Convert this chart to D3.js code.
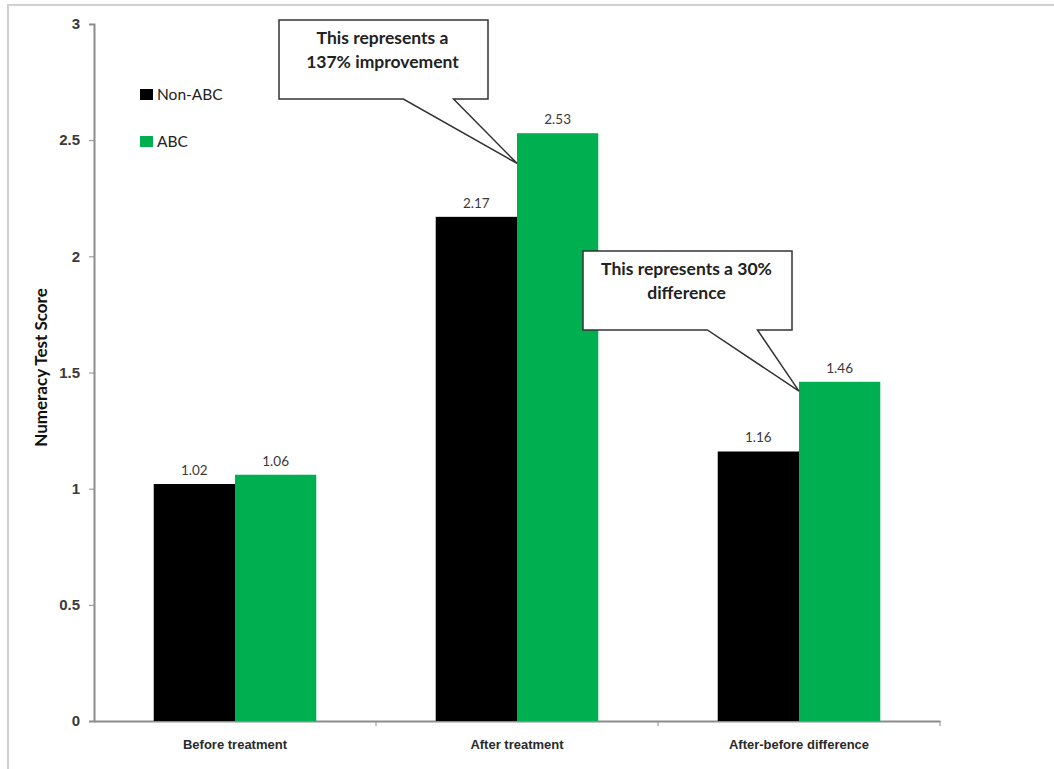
<!DOCTYPE html>
<html>
<head>
<meta charset="utf-8">
<script src="https://cdn.jsdelivr.net/npm/d3@7"></script>
<style>
  body { margin: 0; background: #fff; }
  svg { display: block; font-family: "Lato", "Open Sans", sans-serif; }
</style>
</head>
<body>
<svg id="chart"></svg>
<script>
// data
const categories = ["Before treatment", "After treatment", "After-before difference"];
const seriesNames = ["Non-ABC", "ABC"];
const nonAbc = [1.02, 2.17, 1.16];
const abc = [1.06, 2.53, 1.46];
const yTicks = [0, 0.5, 1, 1.5, 2, 2.5, 3];
const callouts = [
  { lines: ["This represents a", "137% improvement"], category: "After treatment", value: 2.40 },
  { lines: ["This represents a 30%", "difference"], category: "After-before difference", value: 1.42 }
];

const colors = { "Non-ABC": "#000000", "ABC": "#00b050" };

const width = 1054, height = 769;
const margin = { top: 24, right: 114, bottom: 48, left: 94 };

const svg = d3.select("#chart")
  .attr("width", width)
  .attr("height", height);

// outer frame (only top and left visible)
svg.append("path")
  .attr("d", `M8,${height} L8,5 L${width},5`)
  .attr("fill", "none")
  .attr("stroke", "#d0d0d0")
  .attr("stroke-width", 2);

const x = d3.scaleBand()
  .domain(categories)
  .range([margin.left, width - margin.right])
  .paddingInner(0)
  .paddingOuter(0);

const xInner = d3.scaleBand()
  .domain(seriesNames)
  .range([0, x.bandwidth()])
  .paddingOuter(0.75 * 0.98)
  .paddingInner(0);

const y = d3.scaleLinear()
  .domain([0, 3])
  .range([height - margin.bottom, margin.top]);

// y axis
const yAxis = svg.append("g")
  .attr("transform", `translate(${margin.left},0)`)
  .call(d3.axisLeft(y).tickValues(yTicks).tickFormat(d3.format("")).tickSize(5).tickPadding(9));
yAxis.select(".domain").attr("stroke", "#8c8c8c").attr("stroke-width", 2);
yAxis.selectAll(".tick line").attr("stroke", "#8c8c8c");
yAxis.selectAll(".tick text")
  .attr("font-size", 15).attr("font-weight", "bold").attr("fill", "#3a3a3a");

// x axis
const xAxis = svg.append("g")
  .attr("transform", `translate(0,${height - margin.bottom})`)
  .call(d3.axisBottom(x).tickSize(0).tickPadding(19));
xAxis.select(".domain").attr("stroke", "#8c8c8c").attr("stroke-width", 2);
xAxis.selectAll(".tick text")
  .attr("font-size", 13).attr("font-weight", "bold").attr("fill", "#2a2a2a");

// category boundary ticks
const bounds = categories.map(c => x(c)).concat([x(categories[categories.length - 1]) + x.bandwidth()]);
svg.append("g").selectAll("line")
  .data(bounds.slice(1))
  .enter().append("line")
  .attr("x1", d => d).attr("x2", d => d)
  .attr("y1", y(0)).attr("y2", y(0) + 5)
  .attr("stroke", "#8c8c8c");

// y axis title
svg.append("text")
  .attr("transform", `translate(47,${(y(0) + y(3)) / 2 - 5}) rotate(-90)`)
  .attr("text-anchor", "middle")
  .attr("font-size", 17)
  .attr("font-weight", "bold")
  .attr("fill", "#111")
  .text("Numeracy Test Score");

// bars
const rows = categories.map((c, i) => ({ category: c, values: [
  { name: "Non-ABC", value: nonAbc[i] },
  { name: "ABC", value: abc[i] }
] }));

const groups = svg.selectAll(".row-group")
  .data(rows)
  .enter().append("g")
  .attr("class", "row-group")
  .attr("transform", d => `translate(${x(d.category)},0)`);

groups.selectAll("rect")
  .data(d => d.values)
  .enter().append("rect")
  .attr("x", d => xInner(d.name))
  .attr("width", xInner.bandwidth())
  .attr("y", d => y(d.value))
  .attr("height", d => y(0) - y(d.value))
  .attr("fill", d => colors[d.name]);

groups.selectAll("text")
  .data(d => d.values)
  .enter().append("text")
  .attr("x", d => xInner(d.name) + xInner.bandwidth() / 2)
  .attr("y", d => y(d.value) - 9)
  .attr("text-anchor", "middle")
  .attr("font-size", 13.5)
  .attr("fill", "#3a3a3a")
  .text(d => d.value.toFixed(2));

// legend
const legend = svg.append("g").attr("transform", "translate(140,89)");
seriesNames.forEach((name, i) => {
  const g = legend.append("g").attr("transform", `translate(0,${i * 47})`);
  g.append("rect").attr("width", 13).attr("height", 11).attr("fill", colors[name]);
  g.append("text")
    .attr("x", 17).attr("y", 11)
    .attr("font-size", 15.5)
    .attr("fill", "#222")
    .text(name);
});

// callouts
const boxW = 209, boxH = 79;
const boxPos = [{ left: 279, top: 20 }, { left: 583, top: 251 }];
callouts.forEach((c, i) => {
  const bx = boxPos[i].left, by = boxPos[i].top;
  const tipX = x(c.category) + xInner("ABC");
  const tipY = y(c.value);
  const b1 = bx + boxW * 0.595, b2 = bx + boxW * 0.835;
  const path = `M${bx},${by} L${bx + boxW},${by} L${bx + boxW},${by + boxH} L${b2},${by + boxH} ` +
               `L${tipX},${tipY} L${b1},${by + boxH} L${bx},${by + boxH} Z`;
  svg.append("path")
    .attr("d", path)
    .attr("fill", "#fff")
    .attr("stroke", "#333")
    .attr("stroke-width", 1.5)
    .attr("stroke-linejoin", "miter");
  c.lines.forEach((line, j) => {
    svg.append("text")
      .attr("x", bx + boxW / 2 - 1)
      .attr("y", by + 24 + j * 24)
      .attr("text-anchor", "middle")
      .attr("font-size", 17.5)
      .attr("font-weight", "bold")
      .attr("fill", "#222")
      .text(line);
  });
});
</script>
</body>
</html>
